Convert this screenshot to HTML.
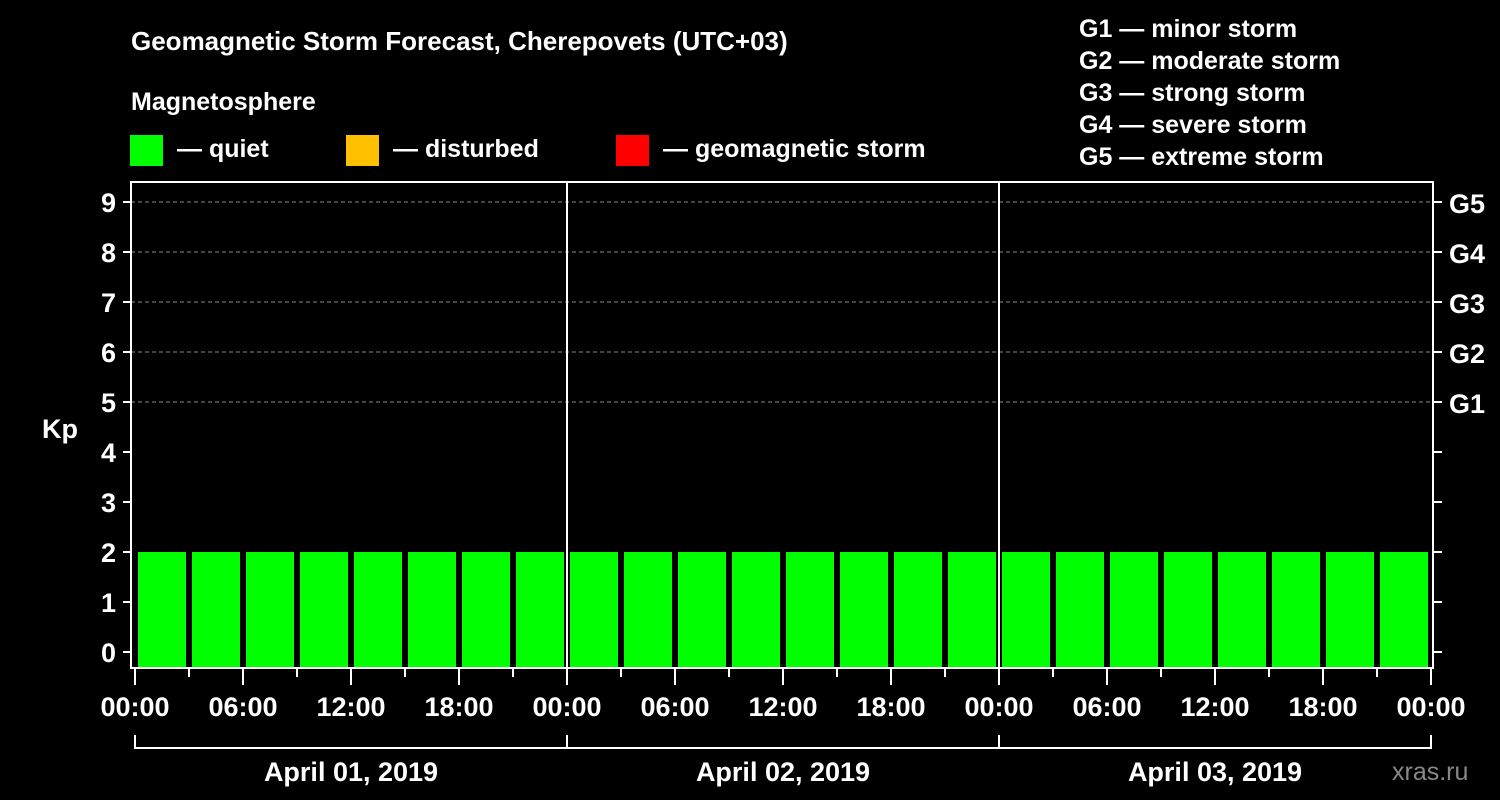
<!DOCTYPE html>
<html><head><meta charset="utf-8"><style>
html,body{margin:0;padding:0;background:#000;}
svg{display:block;font-family:"Liberation Sans",Arial,sans-serif;font-weight:bold;}
</style></head><body>
<svg id="chart" width="1500" height="800" viewBox="0 0 1500 800">
<rect width="1500" height="800" fill="#000"/>
<text x="131" y="50" fill="#fff" font-size="26">Geomagnetic Storm Forecast, Cherepovets (UTC+03)</text>
<text x="131" y="110" fill="#fff" font-size="25">Magnetosphere</text>
<g><rect x="130" y="135" width="33" height="31" fill="#00ff00"/><text x="177" y="157" fill="#fff" font-size="25">— quiet</text></g>
<g><rect x="346" y="135" width="33" height="31" fill="#ffc000"/><text x="393" y="157" fill="#fff" font-size="25">— disturbed</text></g>
<g><rect x="616" y="135" width="33" height="31" fill="#ff0000"/><text x="663" y="157" fill="#fff" font-size="25">— geomagnetic storm</text></g>
<g fill="#fff" font-size="25">
<text x="1079" y="37">G1 — minor storm</text>
<text x="1079" y="69">G2 — moderate storm</text>
<text x="1079" y="101">G3 — strong storm</text>
<text x="1079" y="133">G4 — severe storm</text>
<text x="1079" y="165">G5 — extreme storm</text>
</g>
<text x="42" y="438" fill="#fff" font-size="27">Kp</text>
<text x="1392" y="780" fill="#888" font-size="25" font-weight="normal">xras.ru</text>
<g id="grid"></g><g id="bars"></g><g id="axes"></g>
</svg>
<script>
const kpValues=[2,2,2,2,2,2,2,2, 2,2,2,2,2,2,2,2, 2,2,2,2,2,2,2,2];
const dayLabels=["April 01, 2019","April 02, 2019","April 03, 2019"];
const hourLabels=["00:00","06:00","12:00","18:00"];
const yTicks=[0,1,2,3,4,5,6,7,8,9];
const gLabels=["G1","G2","G3","G4","G5"];
const NS="http://www.w3.org/2000/svg";
const x0=135,dayW=432,plotL=131,plotR=1433,plotT=182,plotB=668;
const xh=h=>x0+h*dayW/24;
const y=v=>652-v*50;
function mk(tag,attrs,parent,txt){const e=document.createElementNS(NS,tag);for(const k in attrs)e.setAttribute(k,attrs[k]);if(txt!==undefined)e.textContent=txt;parent.appendChild(e);return e;}
const grid=document.getElementById('grid'),bars=document.getElementById('bars'),axes=document.getElementById('axes');
[5,6,7,8,9].forEach(v=>{const l=mk('line',{x1:plotL,x2:plotR,y1:y(v),y2:y(v),stroke:'#888','stroke-dasharray':'4,3','stroke-width':1},grid);

});
kpValues.forEach((v,i)=>{const r=mk('rect',{x:xh(i*3)+3,y:y(v),width:48,height:plotB-y(v),fill:v>=5?'#ff0000':(v>=4?'#ffc000':'#00ff00')},bars);

});
const frame=mk('rect',{x:plotL,y:plotT,width:plotR-plotL,height:plotB-plotT,fill:'none',stroke:'#fff','stroke-width':2},axes);


for(let d=1;d<3;d++){const l=mk('line',{x1:x0+d*dayW,x2:x0+d*dayW,y1:plotT,y2:plotB,stroke:'#fff','stroke-width':2},axes);

}
yTicks.forEach(v=>{mk('line',{x1:123,x2:plotL,y1:y(v),y2:y(v),stroke:'#fff','stroke-width':2},axes);
mk('line',{x1:plotR,x2:1442,y1:y(v),y2:y(v),stroke:'#fff','stroke-width':2},axes);
const t=mk('text',{x:116,y:y(v)+10,fill:'#fff','font-size':27,'text-anchor':'end'},axes,String(v));

});
gLabels.forEach((g,i)=>{const t=mk('text',{x:1449,y:y(5+i)+11,fill:'#fff','font-size':27},axes,g);

});
for(let k=0;k<=24;k++){const major=k%2===0;mk('line',{x1:xh(k*3),x2:xh(k*3),y1:plotB,y2:major?685:677,stroke:'#fff','stroke-width':2},axes);
if(major){const t=mk('text',{x:xh(k*3),y:716,fill:'#fff','font-size':27,'text-anchor':'middle'},axes,hourLabels[(k/2)%4]);

}}
mk('path',{d:`M${x0} 735V748H${x0+3*dayW}V735M${x0+dayW} 735V748M${x0+2*dayW} 735V748`,fill:'none',stroke:'#fff','stroke-width':2},axes);
dayLabels.forEach((d,i)=>{const t=mk('text',{x:x0+dayW*(i+0.5),y:781,fill:'#fff','font-size':27,'text-anchor':'middle'},axes,d);

});
</script>
</body></html>
